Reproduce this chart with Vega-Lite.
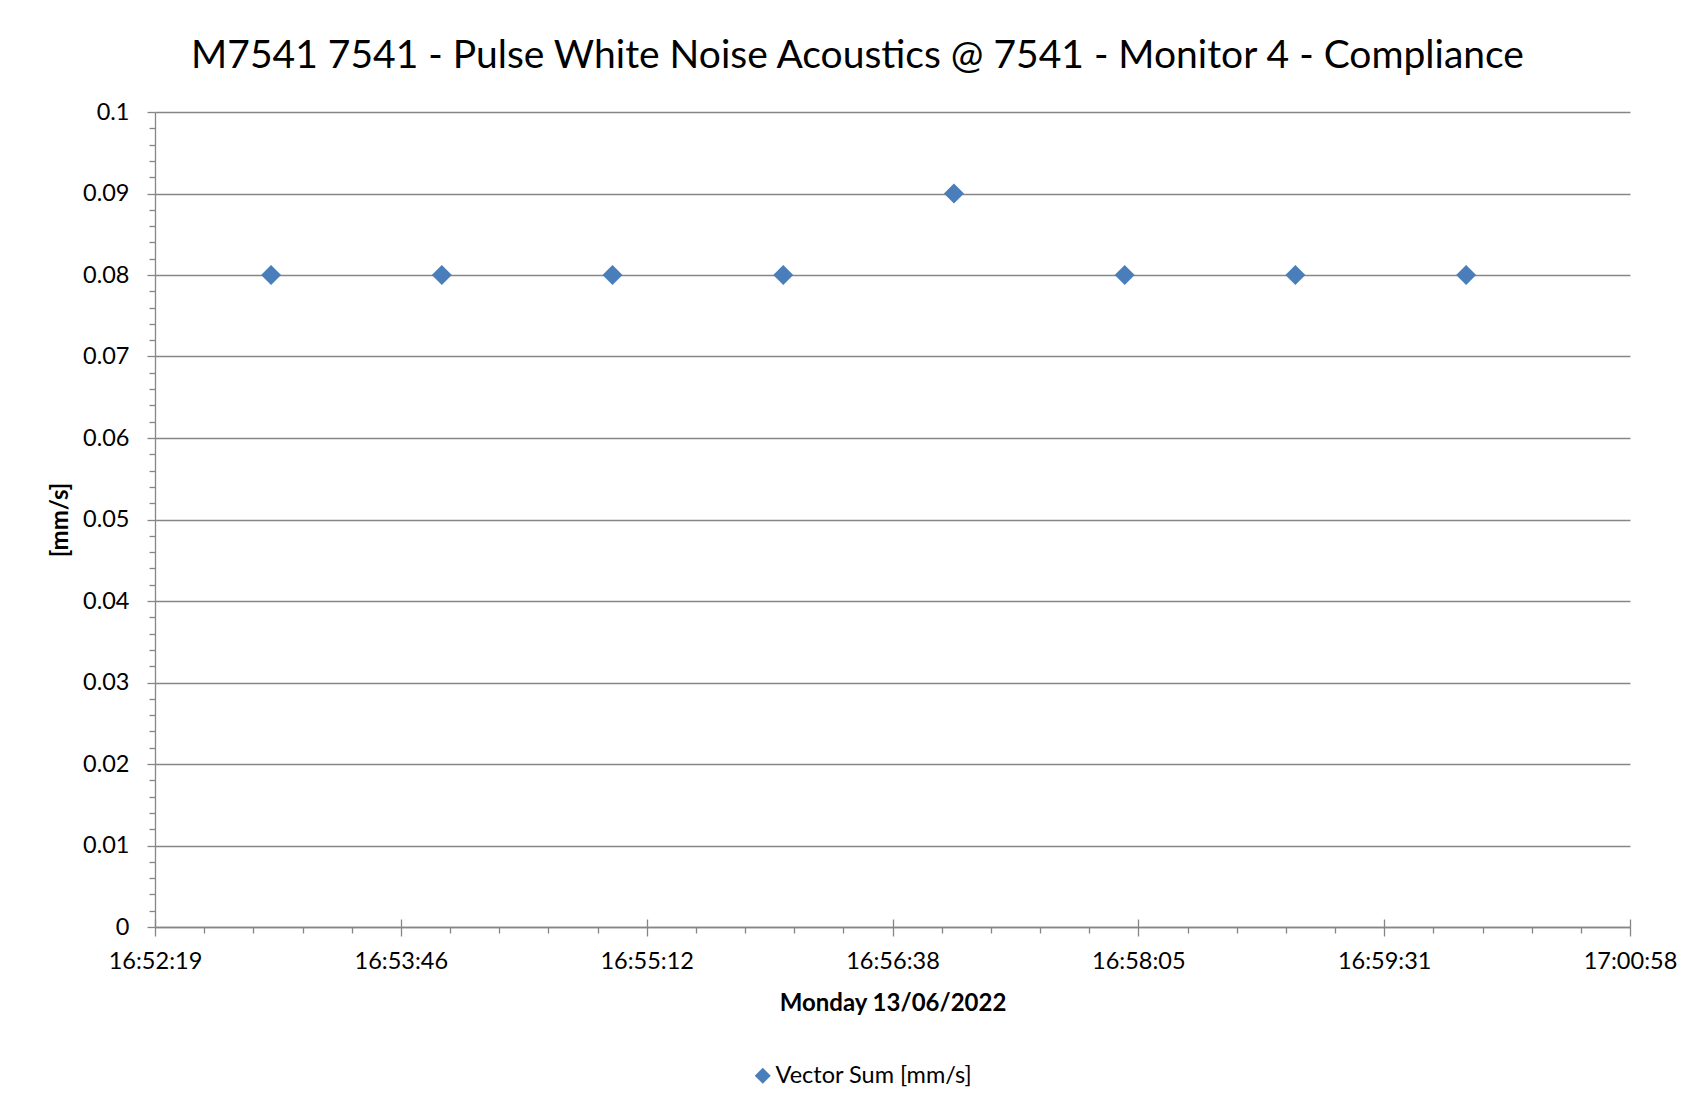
{
  "$schema": "https://vega.github.io/schema/vega-lite/v6.json",
  "width": 1475,
  "height": 815,
  "autosize": {"type": "none"},
  "padding": {"left": 155, "top": 112, "right": 63, "bottom": 182},
  "background": "white",
  "title": {
    "text": "M7541 7541 - Pulse White Noise Acoustics @ 7541 - Monitor 4  - Compliance",
    "anchor": "middle",
    "dx": -35,
    "font": "Lato",
    "fontSize": 39,
    "fontWeight": "normal",
    "color": "black",
    "baseline": "alphabetic",
    "offset": -7
  },
  "data": {
    "values": [
      {"time": "2022-06-13T16:53:00", "value": 0.08, "series": "Vector Sum [mm/s]"},
      {"time": "2022-06-13T16:54:00", "value": 0.08, "series": "Vector Sum [mm/s]"},
      {"time": "2022-06-13T16:55:00", "value": 0.08, "series": "Vector Sum [mm/s]"},
      {"time": "2022-06-13T16:56:00", "value": 0.08, "series": "Vector Sum [mm/s]"},
      {"time": "2022-06-13T16:57:00", "value": 0.09, "series": "Vector Sum [mm/s]"},
      {"time": "2022-06-13T16:58:00", "value": 0.08, "series": "Vector Sum [mm/s]"},
      {"time": "2022-06-13T16:59:00", "value": 0.08, "series": "Vector Sum [mm/s]"},
      {"time": "2022-06-13T17:00:00", "value": 0.08, "series": "Vector Sum [mm/s]"}
    ]
  },
  "layer": [
    {
      "mark": {"type": "point", "shape": "diamond", "filled": true, "size": 400, "opacity": 1, "strokeWidth": 0},
      "encoding": {
        "x": {
          "field": "time",
          "type": "temporal",
          "scale": {
            "domain": [
              {"year": 2022, "month": 6, "date": 13, "hours": 16, "minutes": 52, "seconds": 19, "milliseconds": 200},
              {"year": 2022, "month": 6, "date": 13, "hours": 17, "minutes": 0, "seconds": 57, "milliseconds": 600}
            ],
            "nice": false
          },
          "axis": {
            "orient": "bottom",
            "title": "Monday 13/06/2022",
            "values": [
              {"year": 2022, "month": 6, "date": 13, "hours": 16, "minutes": 52, "seconds": 19, "milliseconds": 200},
              {"year": 2022, "month": 6, "date": 13, "hours": 16, "minutes": 53, "seconds": 45, "milliseconds": 600},
              {"year": 2022, "month": 6, "date": 13, "hours": 16, "minutes": 55, "seconds": 12, "milliseconds": 0},
              {"year": 2022, "month": 6, "date": 13, "hours": 16, "minutes": 56, "seconds": 38, "milliseconds": 400},
              {"year": 2022, "month": 6, "date": 13, "hours": 16, "minutes": 58, "seconds": 4, "milliseconds": 800},
              {"year": 2022, "month": 6, "date": 13, "hours": 16, "minutes": 59, "seconds": 31, "milliseconds": 200},
              {"year": 2022, "month": 6, "date": 13, "hours": 17, "minutes": 0, "seconds": 57, "milliseconds": 600}
            ],
            "labelExpr": "timeFormat(time(datum.value) + 500, '%H:%M:%S')",
            "labelFlush": false,
            "labelOverlap": false,
            "tickSize": 9,
            "labelPadding": 13,
            "grid": false,
            "titlePadding": 19
          }
        },
        "y": {
          "field": "value",
          "type": "quantitative",
          "scale": {"domain": [0, 0.1], "nice": false, "zero": true},
          "axis": {
            "orient": "left",
            "title": "[mm/s]",
            "values": [0, 0.01, 0.02, 0.03, 0.04, 0.05, 0.06, 0.07, 0.08, 0.09, 0.1],
            "format": "~g",
            "grid": true,
            "tickSize": 8,
            "labelPadding": 18,
            "titlePadding": 10
          }
        },
        "color": {
          "field": "series",
          "type": "nominal",
          "scale": {"range": ["#4A7EBB"]},
          "legend": {
            "title": null,
            "orient": "none",
            "legendX": 596,
            "legendY": 952,
            "direction": "horizontal",
            "padding": 0,
            "symbolType": "diamond",
            "symbolSize": 256,
            "symbolStrokeWidth": 0,
            "labelFont": "Lato",
            "labelFontSize": 23.5,
            "labelColor": "black",
            "labelOffset": 1,
            "labelLimit": 0
          }
        }
      }
    },
    {
      "mark": {"type": "point", "opacity": 0},
      "encoding": {
        "x": {
          "field": "time",
          "type": "temporal",
          "axis": {
            "orient": "bottom",
            "title": null,
            "labels": false,
            "domain": false,
            "grid": false,
            "tickSize": 6,
            "values": [
              {"year": 2022, "month": 6, "date": 13, "hours": 16, "minutes": 52, "seconds": 36, "milliseconds": 480},
              {"year": 2022, "month": 6, "date": 13, "hours": 16, "minutes": 52, "seconds": 53, "milliseconds": 760},
              {"year": 2022, "month": 6, "date": 13, "hours": 16, "minutes": 53, "seconds": 11, "milliseconds": 40},
              {"year": 2022, "month": 6, "date": 13, "hours": 16, "minutes": 53, "seconds": 28, "milliseconds": 320},
              {"year": 2022, "month": 6, "date": 13, "hours": 16, "minutes": 54, "seconds": 2, "milliseconds": 880},
              {"year": 2022, "month": 6, "date": 13, "hours": 16, "minutes": 54, "seconds": 20, "milliseconds": 160},
              {"year": 2022, "month": 6, "date": 13, "hours": 16, "minutes": 54, "seconds": 37, "milliseconds": 440},
              {"year": 2022, "month": 6, "date": 13, "hours": 16, "minutes": 54, "seconds": 54, "milliseconds": 720},
              {"year": 2022, "month": 6, "date": 13, "hours": 16, "minutes": 55, "seconds": 29, "milliseconds": 280},
              {"year": 2022, "month": 6, "date": 13, "hours": 16, "minutes": 55, "seconds": 46, "milliseconds": 560},
              {"year": 2022, "month": 6, "date": 13, "hours": 16, "minutes": 56, "seconds": 3, "milliseconds": 840},
              {"year": 2022, "month": 6, "date": 13, "hours": 16, "minutes": 56, "seconds": 21, "milliseconds": 120},
              {"year": 2022, "month": 6, "date": 13, "hours": 16, "minutes": 56, "seconds": 55, "milliseconds": 680},
              {"year": 2022, "month": 6, "date": 13, "hours": 16, "minutes": 57, "seconds": 12, "milliseconds": 960},
              {"year": 2022, "month": 6, "date": 13, "hours": 16, "minutes": 57, "seconds": 30, "milliseconds": 240},
              {"year": 2022, "month": 6, "date": 13, "hours": 16, "minutes": 57, "seconds": 47, "milliseconds": 520},
              {"year": 2022, "month": 6, "date": 13, "hours": 16, "minutes": 58, "seconds": 22, "milliseconds": 80},
              {"year": 2022, "month": 6, "date": 13, "hours": 16, "minutes": 58, "seconds": 39, "milliseconds": 360},
              {"year": 2022, "month": 6, "date": 13, "hours": 16, "minutes": 58, "seconds": 56, "milliseconds": 640},
              {"year": 2022, "month": 6, "date": 13, "hours": 16, "minutes": 59, "seconds": 13, "milliseconds": 920},
              {"year": 2022, "month": 6, "date": 13, "hours": 16, "minutes": 59, "seconds": 48, "milliseconds": 480},
              {"year": 2022, "month": 6, "date": 13, "hours": 17, "minutes": 0, "seconds": 5, "milliseconds": 760},
              {"year": 2022, "month": 6, "date": 13, "hours": 17, "minutes": 0, "seconds": 23, "milliseconds": 40},
              {"year": 2022, "month": 6, "date": 13, "hours": 17, "minutes": 0, "seconds": 40, "milliseconds": 320}
            ]
          }
        },
        "y": {
          "field": "value",
          "type": "quantitative",
          "axis": {
            "orient": "left",
            "title": null,
            "labels": false,
            "domain": false,
            "grid": false,
            "tickSize": 6,
            "values": [0.002, 0.004, 0.006, 0.008, 0.012, 0.014, 0.016, 0.018, 0.022, 0.024, 0.026, 0.028, 0.032, 0.034, 0.036, 0.038, 0.042, 0.044, 0.046, 0.048, 0.052, 0.054, 0.056, 0.058, 0.062, 0.064, 0.066, 0.068, 0.072, 0.074, 0.076, 0.078, 0.082, 0.084, 0.086, 0.088, 0.092, 0.094, 0.096, 0.098]
          }
        }
      }
    },
    {
      "mark": {"type": "point", "opacity": 0},
      "encoding": {
        "x": {
          "field": "time",
          "type": "temporal",
          "axis": {
            "orient": "bottom",
            "title": null,
            "labels": false,
            "domain": false,
            "grid": false,
            "tickSize": -8,
            "values": [
              {"year": 2022, "month": 6, "date": 13, "hours": 16, "minutes": 52, "seconds": 19, "milliseconds": 200},
              {"year": 2022, "month": 6, "date": 13, "hours": 16, "minutes": 53, "seconds": 45, "milliseconds": 600},
              {"year": 2022, "month": 6, "date": 13, "hours": 16, "minutes": 55, "seconds": 12, "milliseconds": 0},
              {"year": 2022, "month": 6, "date": 13, "hours": 16, "minutes": 56, "seconds": 38, "milliseconds": 400},
              {"year": 2022, "month": 6, "date": 13, "hours": 16, "minutes": 58, "seconds": 4, "milliseconds": 800},
              {"year": 2022, "month": 6, "date": 13, "hours": 16, "minutes": 59, "seconds": 31, "milliseconds": 200},
              {"year": 2022, "month": 6, "date": 13, "hours": 17, "minutes": 0, "seconds": 57, "milliseconds": 600}
            ]
          }
        },
        "y": {"field": "value", "type": "quantitative", "axis": null}
      }
    }
  ],
  "resolve": {"axis": {"x": "independent", "y": "independent"}},
  "config": {
    "view": {"stroke": null},
    "font": "Lato",
    "axis": {
      "domainColor": "#868686",
      "domainWidth": 1.3,
      "tickColor": "#868686",
      "tickWidth": 1.3,
      "gridColor": "#868686",
      "gridWidth": 1.3,
      "labelFont": "Lato",
      "labelFontSize": 23.5,
      "labelColor": "black",
      "titleFont": "Lato",
      "titleFontSize": 24,
      "titleFontWeight": "bold",
      "titleColor": "black"
    }
  }
}
